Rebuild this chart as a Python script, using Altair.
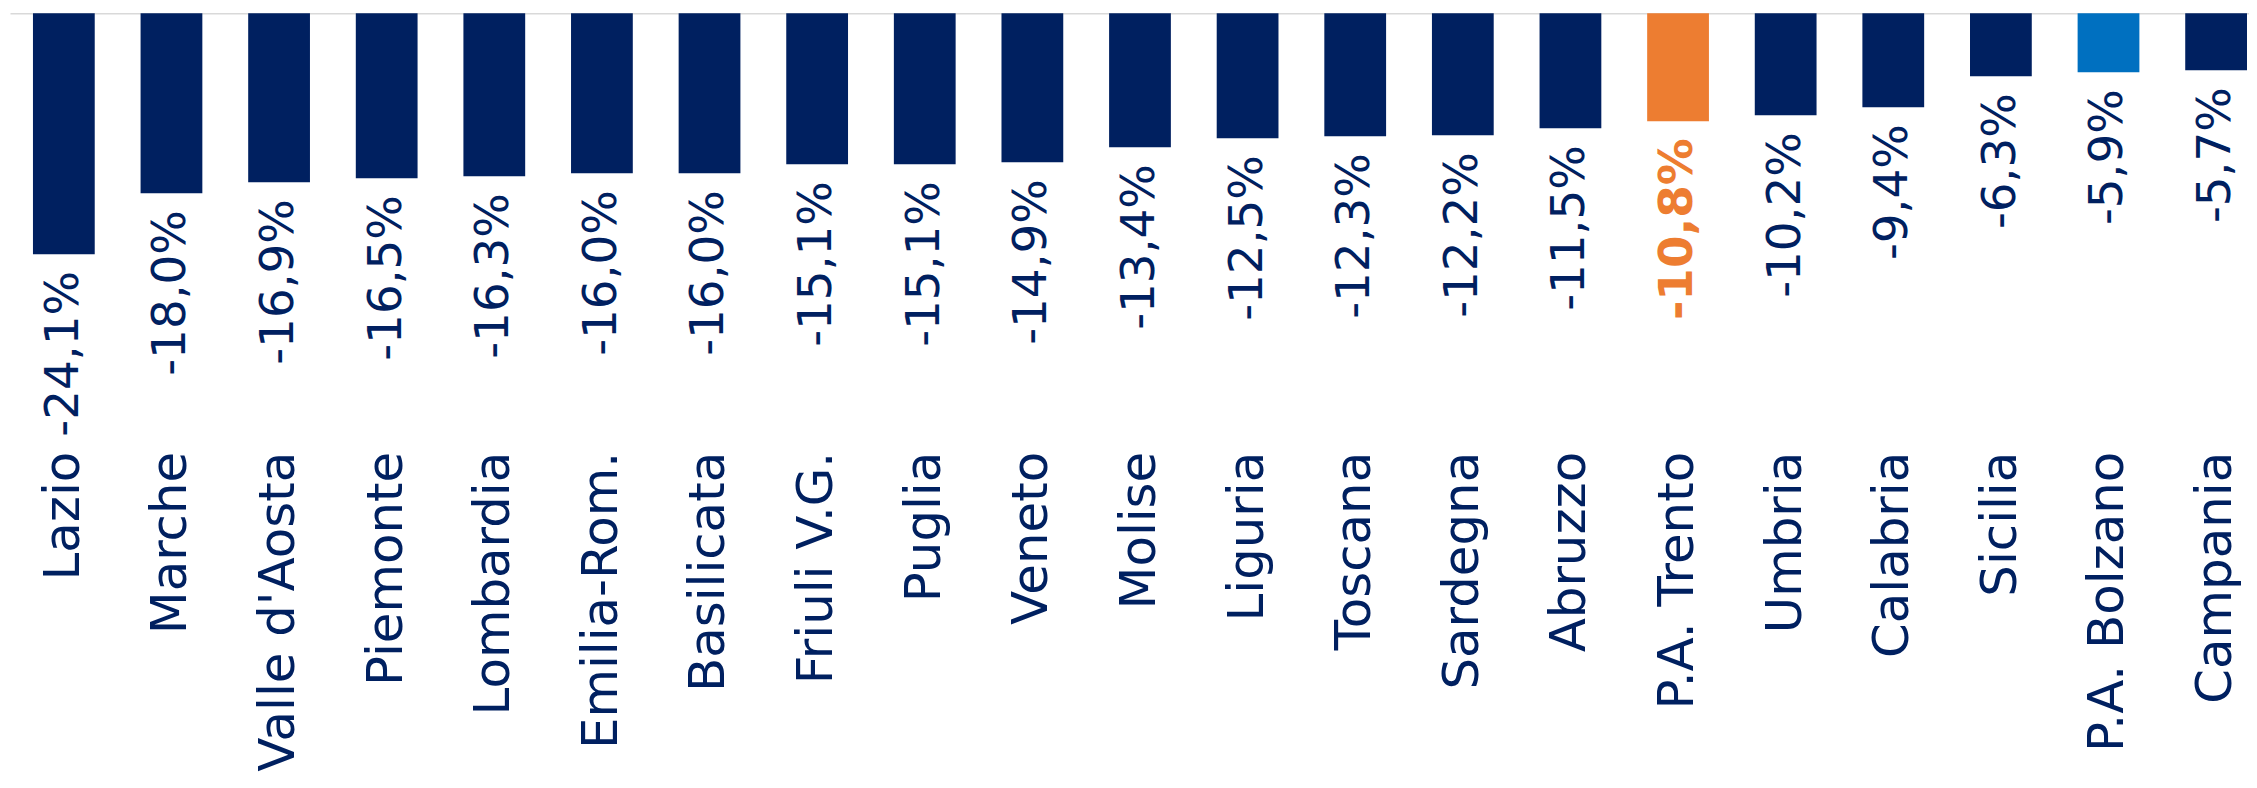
import altair as alt
import pandas as pd

regions = ["Lazio", "Marche", "Valle d'Aosta", "Piemonte", "Lombardia", "Emilia-Rom.",
           "Basilicata", "Friuli V.G.", "Puglia", "Veneto", "Molise", "Liguria",
           "Toscana", "Sardegna", "Abruzzo", "P.A. Trento", "Umbria", "Calabria",
           "Sicilia", "P.A. Bolzano", "Campania"]
values = [-24.1, -18.0, -16.9, -16.5, -16.3, -16.0, -16.0, -15.1, -15.1, -14.9, -13.4,
          -12.5, -12.3, -12.2, -11.5, -10.8, -10.2, -9.4, -6.3, -5.9, -5.7]
groups = ["base"] * len(regions)
groups[regions.index("P.A. Trento")] = "trento"
groups[regions.index("P.A. Bolzano")] = "bolzano"
labels = [f"{v:.1f}".replace(".", ",") + "%" for v in values]

df = pd.DataFrame({"region": regions, "value": values, "group": groups, "label": labels})

NAVY = "#002060"
FONT = "DejaVu Sans"

x = alt.X("region:N", sort=regions,
          scale=alt.Scale(paddingInner=0.426, paddingOuter=0.116, align=0.92),
          axis=alt.Axis(orient="top", domain=True, domainColor="#D9D9D9", domainWidth=1.5,
                        ticks=False, labels=False, title=None, grid=False))
y = alt.Y("value:Q", scale=alt.Scale(domain=[-76.6, 0], nice=False), axis=None)

base = alt.Chart(df)

bars = base.mark_bar().encode(
    x=x, y=y,
    color=alt.Color("group:N",
                    scale=alt.Scale(domain=["base", "trento", "bolzano"],
                                    range=[NAVY, "#ED7D31", "#0070C0"]),
                    legend=None),
)

vals = base.transform_filter(alt.datum.group != "trento").mark_text(
    angle=270, align="right", baseline="middle", dx=-17, font=FONT, fontSize=47, color=NAVY
).encode(x=x, y=y, text="label:N")

vals_tr = base.transform_filter(alt.datum.group == "trento").mark_text(
    angle=270, align="right", baseline="middle", dx=-17, font=FONT, fontSize=47,
    fontWeight="bold", color="#ED7D31"
).encode(x=x, y=y, text="label:N")

cats = base.mark_text(
    angle=270, align="right", baseline="middle", font=FONT, fontSize=50, color=NAVY
).encode(x=x, y=alt.value(440), text="region:N")

chart = alt.layer(bars, vals, vals_tr, cats).properties(
    width=2247, height=768,
    autosize=alt.AutoSizeParams(type="none"),
    padding={"left": 2, "top": 4, "right": 0, "bottom": 0},
    background="white",
).configure_view(stroke=None)

chart.save("out.html", embed_options={"renderer": "svg", "actions": False})
